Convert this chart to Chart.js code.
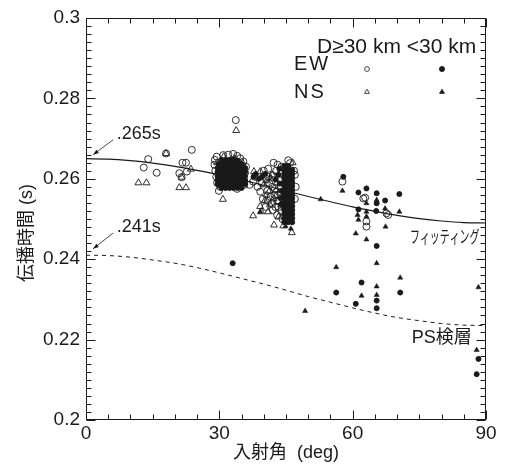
<!DOCTYPE html>
<html lang="ja">
<head>
<meta charset="utf-8">
<title>伝播時間と入射角</title>
<script src="https://cdn.jsdelivr.net/npm/chart.js@4.4.1/dist/chart.umd.min.js"></script>
<style>
  html, body { margin: 0; padding: 0; background: #fff; }
  #wrap { width: 505px; height: 464px; }
</style>
</head>
<body>
<div id="wrap"><canvas id="tiempoChart" width="505" height="464"></canvas></div>
<script>
// Ejes
const xTicks = [0, 30, 60, 90];
const xTickLabels = ['0', '30', '60', '90'];
const yTicks = [0.2, 0.22, 0.24, 0.26, 0.28, 0.3];
const yTickLabels = ['0.2', '0.22', '0.24', '0.26', '0.28', '0.3'];

const curveX = [0, 5, 10, 15, 20, 25, 30, 35, 40, 45, 50, 55, 60, 65, 70, 75, 80, 85, 90];
const fitY = [0.2650, 0.2649, 0.2645, 0.2639, 0.2631, 0.2621, 0.2610, 0.2597, 0.2584, 0.2570,
              0.2556, 0.2543, 0.2530, 0.2519, 0.2509, 0.2501, 0.2495, 0.2491, 0.2490];
const psY = [0.2410, 0.2409, 0.2405, 0.2398, 0.2390, 0.2379, 0.2366, 0.2352, 0.2338, 0.2323,
             0.2307, 0.2293, 0.2279, 0.2266, 0.2255, 0.2247, 0.2240, 0.2236, 0.2235];

// EW, D>=30 km (círculo abierto)  [grados, segundos]
const ewAbiertos = [
  [13.0, 0.2628], [14.0, 0.2649], [15.9, 0.2615], [18.0, 0.2663], [21.0, 0.2614], [21.5, 0.2604],
  [21.7, 0.2640], [22.5, 0.2640], [22.7, 0.2618], [23.8, 0.2672], [33.7, 0.2746],
  [29.0, 0.2647], [29.4, 0.2655], [30.9, 0.2659], [32.0, 0.2660], [33.1, 0.2662], [34.0, 0.2657],
  [34.7, 0.2651], [35.4, 0.2643], [28.9, 0.2635], [29.1, 0.2620], [29.3, 0.2605], [29.5, 0.2590],
  [36.0, 0.2630], [35.8, 0.2615], [30.2, 0.2580], [34.0, 0.2575], [29.9, 0.2570], [35.6, 0.2585],
  [36.8, 0.2585], [37.6, 0.2593], [38.0, 0.2605], [38.6, 0.2580], [39.2, 0.2568],
  [40.5, 0.2600], [40.8, 0.2570], [41.0, 0.2625], [41.2, 0.2590], [41.5, 0.2555], [41.8, 0.2540],
  [42.0, 0.2608], [42.2, 0.2640], [42.5, 0.2575], [42.6, 0.2530], [42.8, 0.2620], [43.0, 0.2510],
  [43.2, 0.2560], [43.4, 0.2545], [43.5, 0.2600], [43.8, 0.2580], [44.0, 0.2520], [44.2, 0.2500],
  [39.8, 0.2550], [40.4, 0.2530], [41.0, 0.2605], [41.9, 0.2580], [42.4, 0.2560], [43.0, 0.2545],
  [40.9, 0.2545], [42.0, 0.2522], [43.3, 0.2530], [39.5, 0.2590], [40.0, 0.2620], [43.7, 0.2612],
  [44.0, 0.2630], [43.1, 0.2635],
  [45.5, 0.2646], [45.9, 0.2639], [46.8, 0.2620], [47.0, 0.2610], [47.2, 0.2580], [47.0, 0.2550],
  [57.7, 0.2593], [62.4, 0.2551], [62.8, 0.2553], [63.1, 0.2494], [63.1, 0.2481], [67.6, 0.2514], [68.0, 0.2510]
];

// NS, D>=30 km (triángulo abierto)
const nsAbiertos = [
  [11.8, 0.2590], [13.6, 0.2590], [18.0, 0.2663], [21.0, 0.2578], [22.5, 0.2578], [21.5, 0.2604],
  [23.6, 0.2624], [33.8, 0.2720], [30.8, 0.2549], [29.5, 0.2640], [31.0, 0.2655], [33.5, 0.2650],
  [35.2, 0.2640], [37.6, 0.2508], [37.8, 0.2618], [39.2, 0.2618], [39.2, 0.2531], [39.4, 0.2518],
  [40.0, 0.2585], [40.2, 0.2545], [41.0, 0.2518], [41.3, 0.2570], [41.6, 0.2600], [42.2, 0.2550],
  [42.3, 0.2485], [42.9, 0.2590], [43.6, 0.2565], [43.9, 0.2535], [44.4, 0.2483], [45.7, 0.2510],
  [46.3, 0.2466], [46.5, 0.2640], [40.6, 0.2560], [41.9, 0.2610], [42.7, 0.2570], [43.3, 0.2505],
  [40.7, 0.2595], [41.4, 0.2535]
];

// EW, <30 km (círculo lleno)
const ewLlenos = [
  [30.5, 0.2577], [31.4, 0.2577], [32.3, 0.2577], [33.2, 0.2577], [34.1, 0.2577], [35.0, 0.2577],
  [29.6, 0.2587], [30.5, 0.2587], [31.4, 0.2587], [32.3, 0.2587], [33.2, 0.2587], [34.1, 0.2587], [35.0, 0.2587], [35.8, 0.2587],
  [29.6, 0.2597], [30.5, 0.2597], [31.4, 0.2597], [32.3, 0.2597], [33.2, 0.2597], [34.1, 0.2597], [35.0, 0.2597], [35.8, 0.2597],
  [29.6, 0.2607], [30.5, 0.2607], [31.4, 0.2607], [32.3, 0.2607], [33.2, 0.2607], [34.1, 0.2607], [35.0, 0.2607], [35.8, 0.2607],
  [29.6, 0.2617], [30.5, 0.2617], [31.4, 0.2617], [32.3, 0.2617], [33.2, 0.2617], [34.1, 0.2617], [35.0, 0.2617], [35.8, 0.2617],
  [29.6, 0.2627], [30.5, 0.2627], [31.4, 0.2627], [32.3, 0.2627], [33.2, 0.2627], [34.1, 0.2627], [35.0, 0.2627], [35.8, 0.2627],
  [29.8, 0.2637], [30.5, 0.2637], [31.4, 0.2637], [32.3, 0.2637], [33.2, 0.2637], [34.1, 0.2637], [35.0, 0.2637],
  [30.6, 0.2647], [31.4, 0.2647], [32.3, 0.2647], [33.2, 0.2649], [34.1, 0.2645],
  [44.6, 0.2492], [45.5, 0.2492], [46.4, 0.2492], [44.6, 0.2502], [45.5, 0.2502], [46.4, 0.2502],
  [44.6, 0.2512], [45.5, 0.2512], [46.4, 0.2512], [44.6, 0.2522], [45.5, 0.2522], [46.4, 0.2522],
  [44.6, 0.2532], [45.5, 0.2532], [46.4, 0.2532], [44.6, 0.2542], [45.5, 0.2542], [46.4, 0.2542],
  [44.6, 0.2552], [45.5, 0.2552], [46.4, 0.2552], [44.6, 0.2562], [45.5, 0.2562], [46.4, 0.2562],
  [44.6, 0.2572], [45.5, 0.2572], [46.4, 0.2572], [44.6, 0.2582], [45.5, 0.2582], [46.4, 0.2582],
  [44.6, 0.2592], [45.5, 0.2592], [46.4, 0.2592], [44.6, 0.2602], [45.5, 0.2602], [46.4, 0.2602],
  [44.6, 0.2612], [45.5, 0.2612], [46.4, 0.2612], [44.6, 0.2622], [45.5, 0.2622], [46.4, 0.2622],
  [44.6, 0.2632], [45.5, 0.2632],
  [43.5, 0.2625], [43.3, 0.2610], [42.7, 0.2598], [43.6, 0.2588], [44.0, 0.2570], [43.7, 0.2552],
  [43.9, 0.2537], [40.3, 0.2612], [39.6, 0.2605], [38.2, 0.2612], [38.9, 0.2600], [37.7, 0.2605],
  [57.9, 0.2605], [61.3, 0.2566], [63.1, 0.2576], [65.4, 0.2564], [67.3, 0.2546], [70.5, 0.2562],
  [61.3, 0.2524], [65.4, 0.2539], [65.3, 0.2520], [65.4, 0.2433], [56.3, 0.2317], [62.0, 0.2342],
  [60.7, 0.2289], [65.4, 0.2297], [65.4, 0.2278], [70.7, 0.2317], [88.3, 0.2152], [87.9, 0.2114],
  [33.0, 0.2390]
];

// NS, <30 km (triángulo lleno)
const nsLlenos = [
  [30.1, 0.2582], [31.1, 0.2582], [32.1, 0.2582], [33.1, 0.2582], [34.1, 0.2582], [35.0, 0.2582],
  [30.1, 0.2602], [31.1, 0.2602], [32.1, 0.2602], [33.1, 0.2602], [34.1, 0.2602], [35.0, 0.2602],
  [30.1, 0.2622], [31.1, 0.2622], [32.1, 0.2622], [33.1, 0.2622], [34.1, 0.2622], [35.0, 0.2622],
  [30.4, 0.2642], [31.1, 0.2642], [32.1, 0.2642], [33.1, 0.2642], [34.1, 0.2642],
  [45.1, 0.2497], [46.0, 0.2497], [45.1, 0.2517], [46.0, 0.2517], [45.1, 0.2537], [46.0, 0.2537],
  [45.1, 0.2557], [46.0, 0.2557], [45.1, 0.2577], [46.0, 0.2577], [45.1, 0.2597], [46.0, 0.2597],
  [45.1, 0.2617], [46.0, 0.2617], [44.9, 0.2482], [46.1, 0.2476],
  [57.7, 0.2570], [61.1, 0.2510], [61.3, 0.2498], [60.7, 0.2464], [63.1, 0.2539], [63.1, 0.2518],
  [63.1, 0.2506], [63.1, 0.2449], [65.4, 0.2390], [67.4, 0.2481], [70.5, 0.2518], [67.3, 0.2526],
  [65.4, 0.2547], [56.3, 0.2380], [62.0, 0.2309], [65.4, 0.2332], [65.4, 0.2311], [70.7, 0.2354],
  [88.3, 0.2330], [49.3, 0.2271], [87.9, 0.2174], [52.8, 0.2549], [39.2, 0.2518]
];

document.addEventListener('DOMContentLoaded', () => {

    const FUENTE = '"Liberation Sans", "Noto Sans CJK JP", sans-serif';
    const TINTA = '#1a1a1a';

    function puntos(lista) {
        return lista.map(p => ({ x: p[0], y: p[1] }));
    }

    function curva(ys) {
        return curveX.map((x, i) => ({ x: x, y: ys[i] }));
    }

    // Marco y marcas hacia dentro en los cuatro lados
    const marcoPlugin = {
        id: 'marco',
        afterDatasetsDraw(chart) {
            const { ctx, chartArea: a, scales } = chart;
            const sx = scales.x, sy = scales.y;
            ctx.save();
            ctx.strokeStyle = TINTA;
            ctx.lineWidth = 1;
            const L = Math.round(a.left) + 0.5, R = Math.round(a.right) - 0.5;
            const T = Math.round(a.top) + 0.5, B = Math.round(a.bottom) - 0.5;
            ctx.strokeRect(L, T, R - L, B - T);
            ctx.beginPath();
            for (let i = 0; i <= 18; i++) {
                const px = Math.round(sx.getPixelForValue(i * 5)) + 0.5;
                const len = (i % 6 === 0) ? 9 : 5;
                ctx.moveTo(px, B); ctx.lineTo(px, B - len);
                ctx.moveTo(px, T); ctx.lineTo(px, T + len);
            }
            for (let i = 0; i <= 50; i++) {
                const py = Math.round(sy.getPixelForValue(0.2 + i * 0.002)) + 0.5;
                const len = (i % 10 === 0) ? 9 : 5;
                ctx.moveTo(L, py); ctx.lineTo(L + len, py);
                ctx.moveTo(R, py); ctx.lineTo(R - len, py);
            }
            ctx.stroke();
            ctx.restore();
        }
    };

    function flecha(ctx, x1, y1, x2, y2) {
        const ang = Math.atan2(y2 - y1, x2 - x1);
        ctx.beginPath();
        ctx.moveTo(x1, y1);
        ctx.lineTo(x2, y2);
        ctx.stroke();
        ctx.beginPath();
        ctx.moveTo(x2, y2);
        ctx.lineTo(x2 - 6 * Math.cos(ang - 0.35), y2 - 6 * Math.sin(ang - 0.35));
        ctx.lineTo(x2 - 6 * Math.cos(ang + 0.35), y2 - 6 * Math.sin(ang + 0.35));
        ctx.closePath();
        ctx.fill();
    }

    // Textos, flechas y leyenda
    const textosPlugin = {
        id: 'textos',
        afterDraw(chart) {
            const { ctx, scales } = chart;
            const sx = scales.x, sy = scales.y;
            const X = v => sx.getPixelForValue(v);
            const Y = v => sy.getPixelForValue(v);
            ctx.save();
            ctx.fillStyle = TINTA;
            ctx.strokeStyle = TINTA;
            ctx.lineWidth = 0.8;

            // Título del eje y
            ctx.save();
            ctx.translate(27, 233);
            ctx.rotate(-Math.PI / 2);
            ctx.font = '18px ' + FUENTE;
            ctx.textAlign = 'center';
            ctx.textBaseline = 'middle';
            ctx.fillText('伝播時間 (s)', 0, 0);
            ctx.restore();

            // .265s y .241s
            ctx.font = '18px ' + FUENTE;
            ctx.textAlign = 'left';
            ctx.textBaseline = 'alphabetic';
            ctx.fillText('.265s', X(6.9), Y(0.2699));
            ctx.fillText('.241s', X(6.9), Y(0.2468));
            flecha(ctx, X(6.1), Y(0.2697), X(1.6), Y(0.2660));
            flecha(ctx, X(6.1), Y(0.2465), X(1.6), Y(0.2426));

            // Rótulos de las curvas
            ctx.save();
            ctx.font = '16px "Noto Sans CJK JP", sans-serif';
            ctx.textBaseline = 'middle';
            ctx.translate(X(72.9), Y(0.2458));
            ctx.scale(0.62, 1.1);
            ctx.fillText('フィッティング', 0, 0);
            ctx.restore();
            ctx.font = '18px ' + FUENTE;
            ctx.textBaseline = 'middle';
            ctx.fillText('PS検層', X(73.3), Y(0.2204));

            // Leyenda
            ctx.font = '21px ' + FUENTE;
            ctx.fillText('D≥30 km <30 km', 317, 47);
            ctx.save();
            ctx.font = '20px ' + FUENTE;
            ctx.letterSpacing = '2px';
            ctx.fillText('EW', 294, 64);
            ctx.fillText('NS', 294, 92);
            ctx.restore();
            const h = Chart.helpers;
            const base = { radius: 2.4, rotation: 0, borderWidth: 0.8 };
            ctx.fillStyle = '#fff';
            h.drawPoint(ctx, Object.assign({}, base, { pointStyle: 'circle' }), 367, 69);
            h.drawPoint(ctx, Object.assign({}, base, { pointStyle: 'triangle', radius: 2.8 }), 367, 92);
            ctx.fillStyle = TINTA;
            h.drawPoint(ctx, Object.assign({}, base, { pointStyle: 'circle', radius: 2.6 }), 442, 69);
            h.drawPoint(ctx, Object.assign({}, base, { pointStyle: 'triangle', radius: 2.8 }), 442, 92);
            ctx.restore();
        }
    };

    function generarTiempoChart() {
        const ctx = document.getElementById('tiempoChart');
        if (!ctx) return;

        const data = {
            datasets: [
                {
                    label: 'EW D≥30 km',
                    data: puntos(ewAbiertos),
                    pointStyle: 'circle',
                    pointRadius: 3.5,
                    pointBackgroundColor: 'rgba(255,255,255,0)',
                    pointBorderColor: TINTA,
                    pointBorderWidth: 0.9,
                    order: 1
                },
                {
                    label: 'NS D≥30 km',
                    data: puntos(nsAbiertos),
                    pointStyle: 'triangle',
                    pointRadius: 4,
                    pointBackgroundColor: 'rgba(255,255,255,0)',
                    pointBorderColor: TINTA,
                    pointBorderWidth: 0.9,
                    order: 1
                },
                {
                    label: 'EW <30 km',
                    data: puntos(ewLlenos),
                    pointStyle: 'circle',
                    pointRadius: 2.5,
                    pointBackgroundColor: TINTA,
                    pointBorderColor: TINTA,
                    pointBorderWidth: 1,
                    order: 2
                },
                {
                    label: 'NS <30 km',
                    data: puntos(nsLlenos),
                    pointStyle: 'triangle',
                    pointRadius: 3,
                    pointBackgroundColor: TINTA,
                    pointBorderColor: TINTA,
                    pointBorderWidth: 0.5,
                    order: 2
                },
                {
                    type: 'line',
                    label: 'フィッティング',
                    data: curva(fitY),
                    borderColor: TINTA,
                    borderWidth: 1.2,
                    pointRadius: 0,
                    cubicInterpolationMode: 'monotone',
                    fill: false,
                    order: 3
                },
                {
                    type: 'line',
                    label: 'PS検層',
                    data: curva(psY),
                    borderColor: TINTA,
                    borderWidth: 1,
                    borderDash: [4, 4],
                    pointRadius: 0,
                    cubicInterpolationMode: 'monotone',
                    fill: false,
                    order: 3
                }
            ]
        };

        new Chart(ctx, {
            type: 'scatter',
            data: data,
            options: {
                responsive: false,
                animation: false,
                layout: { padding: { top: 18, right: 19, left: 0, bottom: 0 } },
                plugins: {
                    legend: { display: false },
                    tooltip: { enabled: false }
                },
                scales: {
                    x: {
                        type: 'linear',
                        min: 0,
                        max: 90,
                        afterBuildTicks: s => { s.ticks = xTicks.map(v => ({ value: v })); },
                        afterFit: s => { s.height = 44; },
                        ticks: {
                            callback: (v, i) => xTickLabels[i],
                            font: { family: FUENTE, size: 19 },
                            color: TINTA,
                            padding: 2,
                            maxRotation: 0,
                            autoSkip: false
                        },
                        grid: { display: false, drawTicks: false },
                        border: { display: false },
                        title: {
                            display: true,
                            text: '入射角  (deg)',
                            font: { family: FUENTE, size: 18 },
                            color: TINTA,
                            padding: { top: 0, bottom: 0 }
                        }
                    },
                    y: {
                        type: 'linear',
                        min: 0.2,
                        max: 0.3,
                        afterBuildTicks: s => { s.ticks = yTicks.map(v => ({ value: v })); },
                        afterFit: s => { s.width = 86; },
                        ticks: {
                            callback: (v, i) => yTickLabels[i],
                            font: { family: FUENTE, size: 19 },
                            color: TINTA,
                            padding: 6,
                            autoSkip: false
                        },
                        grid: { display: false, drawTicks: false },
                        border: { display: false }
                    }
                }
            },
            plugins: [marcoPlugin, textosPlugin]
        });
    }

    generarTiempoChart();
});
</script>
</body>
</html>
